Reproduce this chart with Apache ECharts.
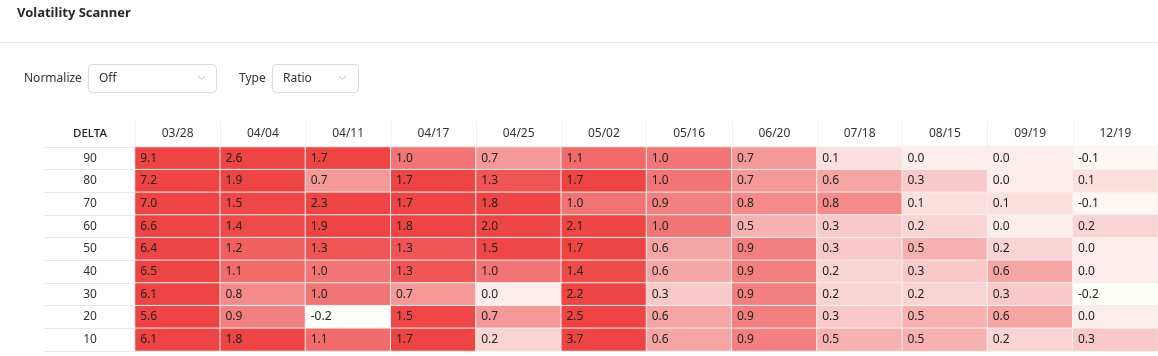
<!DOCTYPE html>
<html><head><meta charset="utf-8">
<script src="https://cdn.jsdelivr.net/npm/echarts@6/dist/echarts.min.js"></script>
<style>html,body{margin:0;padding:0;background:#fff}#c{width:1158px;height:356px}</style>
</head><body><div id="c"></div>
<script>
const expiries = ['03/28','04/04','04/11','04/17','04/25','05/02','05/16','06/20','07/18','08/15','09/19','12/19'];
const deltas = ['90','80','70','60','50','40','30','20','10'];
const d90 = [9.1,2.6,1.7,1.0,0.7,1.1,1.0,0.7,0.1,0.0,0.0,-0.1];
const d80 = [7.2,1.9,0.7,1.7,1.3,1.7,1.0,0.7,0.6,0.3,0.0,0.1];
const d70 = [7.0,1.5,2.3,1.7,1.8,1.0,0.9,0.8,0.8,0.1,0.1,-0.1];
const d60 = [6.6,1.4,1.9,1.8,2.0,2.1,1.0,0.5,0.3,0.2,0.0,0.2];
const d50 = [6.4,1.2,1.3,1.3,1.5,1.7,0.6,0.9,0.3,0.5,0.2,0.0];
const d40 = [6.5,1.1,1.0,1.3,1.0,1.4,0.6,0.9,0.2,0.3,0.6,0.0];
const d30 = [6.1,0.8,1.0,0.7,0.0,2.2,0.3,0.9,0.2,0.2,0.3,-0.2];
const d20 = [5.6,0.9,-0.2,1.5,0.7,2.5,0.6,0.9,0.3,0.5,0.6,0.0];
const d10 = [6.1,1.8,1.1,1.7,0.2,3.7,0.6,0.9,0.5,0.5,0.2,0.3];
const rows = [d90,d80,d70,d60,d50,d40,d30,d20,d10];

const data = [];
rows.forEach((r, yi) => r.forEach((v, xi) => data.push([xi, yi, v])));

const FONT = '"Noto Sans", "Open Sans", sans-serif';
const chart = echarts.init(document.getElementById('c'), null, {renderer: 'canvas'});
chart.setOption({
  animation: false,
  backgroundColor: '#fff',
  textStyle: {fontFamily: FONT},
  grid: {left: 135, right: 0, top: 147, bottom: 5},
  xAxis: {
    type: 'category', position: 'top', data: expiries,
    axisLine: {show: true, lineStyle: {color: '#eeeeee', width: 1}},
    axisTick: {show: true, length: 26, lineStyle: {color: '#f0f0f0'}},
    axisLabel: {margin: 7, fontSize: 12, color: '#333', fontFamily: FONT},
    splitLine: {show: false}
  },
  yAxis: {
    type: 'category', data: deltas, inverse: true,
    axisLine: {show: false},
    axisTick: {show: true, length: 90, lineStyle: {color: '#e8e8e8'}},
    axisLabel: {margin: 45, align: 'center', fontSize: 12, color: '#333', fontFamily: FONT},
    splitLine: {show: false}
  },
  visualMap: {
    show: false, type: 'continuous', min: -0.2, max: 1.6, calculable: false,
    inRange: {color: ['#fdfff8','#fdecec','#fad4d4','#f8bcbc','#f6a5a5','#f48a8a','#f27575','#f16060','#ef4a4a','#ef4444']}
  },
  series: [{
    type: 'heatmap', data: data,
    itemStyle: {borderColor: '#f0f0f0', borderWidth: 1},
    label: {
      show: true, position: 'insideLeft', distance: 6,
      formatter: p => p.value[2].toFixed(1),
      color: '#222', fontSize: 12, fontFamily: FONT
    },
    emphasis: {disabled: true}
  }],
  graphic: [
    {type: 'text', left: 17, top: 7, style: {text: 'Volatility Scanner', font: 'bold 13px ' + FONT, fill: '#262626'}},
    {type: 'line', shape: {x1: 0, y1: 42.5, x2: 1158, y2: 42.5}, style: {stroke: '#e8e8e8', lineWidth: 1}},
    {type: 'text', x: 24, y: 79, style: {text: 'Normalize', font: '12px ' + FONT, fill: '#333', textVerticalAlign: 'middle'}},
    {type: 'rect', shape: {x: 88.5, y: 64.5, width: 128, height: 28, r: 4}, style: {fill: '#fff', stroke: '#d9d9d9', lineWidth: 1}},
    {type: 'text', x: 99, y: 79, style: {text: 'Off', font: '12px ' + FONT, fill: '#333', textVerticalAlign: 'middle'}},
    {type: 'polyline', shape: {points: [[198, 76], [201.5, 79.5], [205, 76]]}, style: {stroke: '#bfbfbf', lineWidth: 1, fill: null}},
    {type: 'text', x: 239, y: 79, style: {text: 'Type', font: '12px ' + FONT, fill: '#333', textVerticalAlign: 'middle'}},
    {type: 'rect', shape: {x: 272.5, y: 64.5, width: 86, height: 28, r: 4}, style: {fill: '#fff', stroke: '#d9d9d9', lineWidth: 1}},
    {type: 'text', x: 283, y: 79, style: {text: 'Ratio', font: '12px ' + FONT, fill: '#333', textVerticalAlign: 'middle'}},
    {type: 'polyline', shape: {points: [[339, 76], [342.5, 79.5], [346, 76]]}, style: {stroke: '#bfbfbf', lineWidth: 1, fill: null}},
    {type: 'text', x: 90, y: 134, style: {text: 'DELTA', font: '500 11.5px ' + FONT, fill: '#222', textAlign: 'center', textVerticalAlign: 'middle'}}
  ]
});
</script></body></html>
